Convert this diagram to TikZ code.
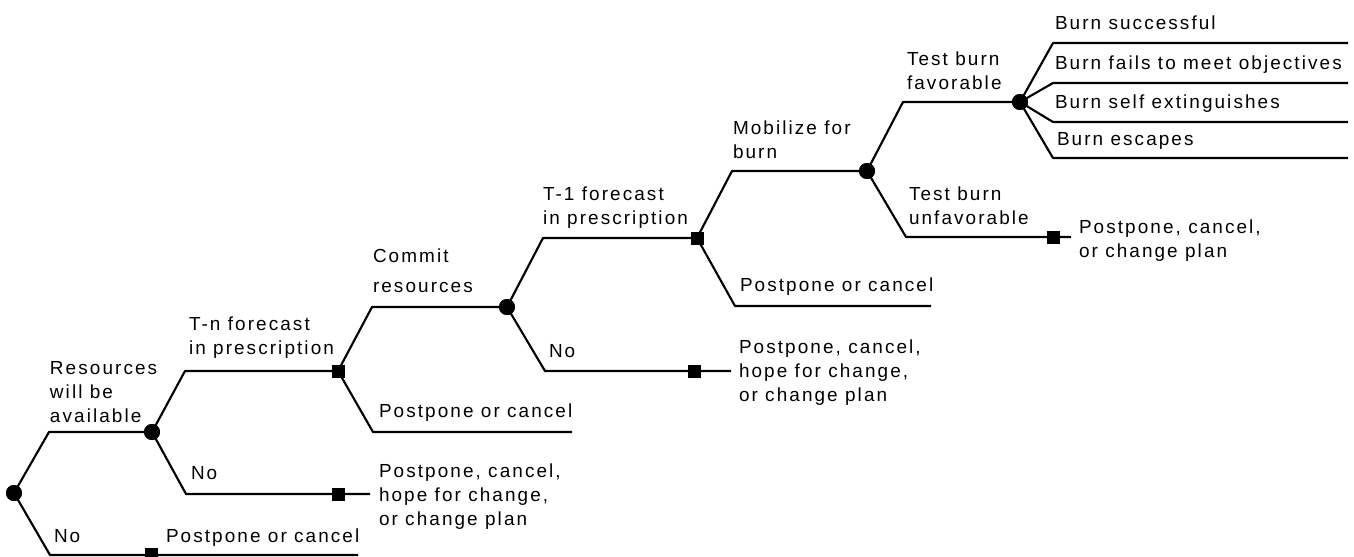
\documentclass[tikz,border=0pt]{standalone}
\usepackage{fontspec}
\setmainfont{Liberation Sans}[LetterSpace=11]
\begin{document}
\begin{tikzpicture}[x=0.75pt,y=-0.75pt,
  line width=1.5pt,
  chance/.style={circle,fill=black,inner sep=0pt,minimum size=12pt},
  decision/.style={rectangle,fill=black,inner sep=0pt,minimum size=9.75pt},
  lbl/.style={anchor=north west,inner sep=0pt,align=left,font=\fontsize{14.2}{18}\selectfont},
  branch/.style={line width=1.6pt,line join=round}]
\useasboundingbox (0,0) rectangle (1354,557);
% decision / chance nodes
\node[chance] (R0) at (14,493) {};
\node[chance] (C1) at (152,432) {};
\node[decision] (S0) at (151,554) {};
\node[decision] (S1) at (338,371) {};
\node[decision] (S2) at (338,494) {};
\node[chance] (C2) at (507,307) {};
\node[decision] (S3) at (697,238) {};
\node[decision] (S4) at (694,371) {};
\node[chance] (C3) at (867,171) {};
\node[chance] (C4) at (1020,102) {};
\node[decision] (S5) at (1053,237) {};
% bend and end points
\coordinate (b1) at (49,432);
\coordinate (b2) at (50,555);
\coordinate (e0) at (358,555);
\coordinate (b3) at (185,371);
\coordinate (b4) at (186,494);
\coordinate (e2) at (370,494);
\coordinate (b5) at (372,307);
\coordinate (b6) at (373,432);
\coordinate (e6) at (572,432);
\coordinate (b7) at (543,238);
\coordinate (b8) at (545,371);
\coordinate (e8) at (731,371);
\coordinate (b9) at (732,171);
\coordinate (b10) at (735,306);
\coordinate (e10) at (931,306);
\coordinate (b11) at (903,102);
\coordinate (b12) at (906,237);
\coordinate (e12) at (1071,237);
\coordinate (o1) at (1053,43);  \coordinate (f1) at (1348,43);
\coordinate (o2) at (1053,83);  \coordinate (f2) at (1348,83);
\coordinate (o3) at (1053,122); \coordinate (f3) at (1348,122);
\coordinate (o4) at (1053,158); \coordinate (f4) at (1348,158);
% connectors
\draw[branch] (R0.center) -- (b1) -- (C1.center);
\draw[branch] (R0.center) -- (b2) -- (e0);
\draw[branch] (C1.center) -- (b3) -- (S1.center);
\draw[branch] (C1.center) -- (b4) -- (S2.center) -- (e2);
\draw[branch] (S1.center) -- (b5) -- (C2.center);
\draw[branch] (S1.center) -- (b6) -- (e6);
\draw[branch] (C2.center) -- (b7) -- (S3.center);
\draw[branch] (C2.center) -- (b8) -- (S4.center) -- (e8);
\draw[branch] (S3.center) -- (b9) -- (C3.center);
\draw[branch] (S3.center) -- (b10) -- (e10);
\draw[branch] (C3.center) -- (b11) -- (C4.center);
\draw[branch] (C3.center) -- (b12) -- (S5.center) -- (e12);
\draw[branch] (C4.center) -- (o1) -- (f1);
\draw[branch] (C4.center) -- (o2) -- (f2);
\draw[branch] (C4.center) -- (o3) -- (f3);
\draw[branch] (C4.center) -- (o4) -- (f4);
% redraw markers on top
\node[chance] at (R0) {};
\node[chance] at (C1) {};
\node[decision] at (S0) {};
\node[decision] at (S1) {};
\node[decision] at (S2) {};
\node[chance] at (C2) {};
\node[decision] at (S3) {};
\node[decision] at (S4) {};
\node[chance] at (C3) {};
\node[chance] at (C4) {};
\node[decision] at (S5) {};
% labels
\node[lbl] (l1) at (49,360) {Resources\\will be\\available};
\node[lbl] (l2) at (53,528) {No};
\node[lbl] (l3) at (165,528) {Postpone or cancel};
\node[lbl] (l4) at (190,465) {No};
\node[lbl] (l5) at (188,316) {T-n forecast\\in prescription};
\node[lbl] (l6) at (378,403) {Postpone or cancel};
\node[lbl] (l7) at (378,463) {Postpone, cancel,\\hope for change,\\or change plan};
\node[lbl] (l8) at (372,248) {Commit\\[4.5pt]resources};
\node[lbl] (l9) at (542,186) {T-1 forecast\\in prescription};
\node[lbl] (l10) at (548,343) {No};
\node[lbl] (l11) at (738,339) {Postpone, cancel,\\hope for change,\\or change plan};
\node[lbl] (l12) at (739,277) {Postpone or cancel};
\node[lbl] (l13) at (732,120) {Mobilize for\\burn};
\node[lbl] (l14) at (906,51) {Test burn\\favorable};
\node[lbl] (l15) at (908,186) {Test burn\\unfavorable};
\node[lbl] (l16) at (1078,219) {Postpone, cancel,\\or change plan};
\node[lbl] (l17) at (1054,15) {Burn successful};
\node[lbl] (l18) at (1054,55) {Burn fails to meet objectives};
\node[lbl] (l19) at (1054,94) {Burn self extinguishes};
\node[lbl] (l20) at (1056,131) {Burn escapes};
\end{tikzpicture}
\end{document}
